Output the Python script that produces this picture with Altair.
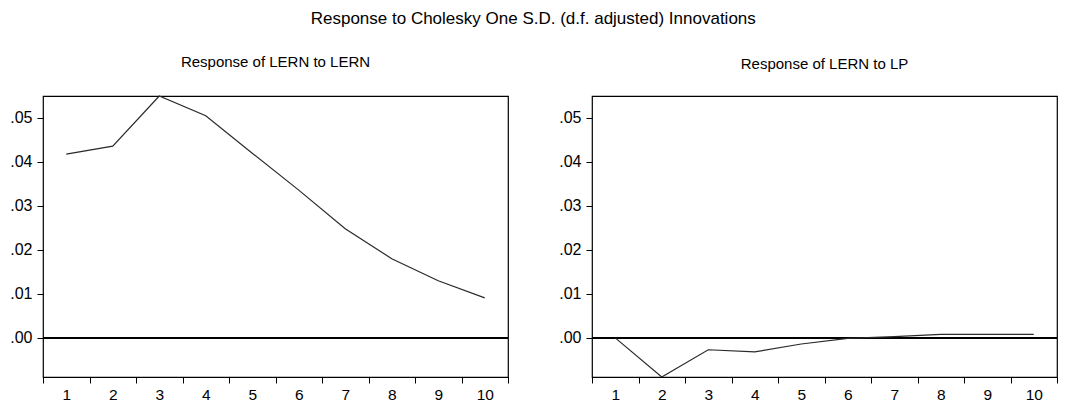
import altair as alt
import pandas as pd

horizons = [1, 2, 3, 4, 5, 6, 7, 8, 9, 10]
resp_lern_lern = [0.0418, 0.0436, 0.0550, 0.0505, 0.0420, 0.0336, 0.0248, 0.0180, 0.0130, 0.0091]
resp_lern_lp = [0.0000, -0.0089, -0.0027, -0.0032, -0.0014, -0.0001, 0.0003, 0.0008, 0.0008, 0.0008]
y_ticks = [0.0, 0.01, 0.02, 0.03, 0.04, 0.05]
y_domain = [-0.0089, 0.0550]

FONT = "Liberation Sans"


def panel(values, title):
    df = pd.DataFrame({"h": horizons, "v": values})
    x = alt.X(
        "h:O",
        scale=alt.Scale(type="band", paddingInner=0, paddingOuter=0),
        bandPosition=0.5,
        axis=alt.Axis(
            title=None, labelAngle=0, tickBand="extent", domain=False,
            tickSize=6, tickColor="black", labelColor="black",
            labelFont=FONT, labelFontSize=15.5, labelPadding=4,
        ),
    )
    y = alt.Y(
        "v:Q",
        scale=alt.Scale(domain=y_domain, nice=False, zero=False),
        axis=alt.Axis(
            title=None, values=y_ticks, grid=False, domain=False,
            tickSize=6, tickColor="black", labelColor="black",
            labelFont=FONT, labelFontSize=16, labelPadding=5,
            labelExpr="replace(format(datum.value, '.2f'), '0.', '.')",
            minExtent=34, maxExtent=34,
        ),
    )
    line = alt.Chart(df).mark_line(color="#2a2a2a", strokeWidth=1.2).encode(x=x, y=y)
    zero = alt.Chart(df).mark_rule(color="black", strokeWidth=1).encode(y=alt.datum(0))
    return alt.layer(zero, line).properties(
        width=465, height=281,
        title=alt.TitleParams(title, fontSize=15, font=FONT, fontWeight="normal",
                              color="black", offset=24, anchor="middle", frame="group"),
    )


left = panel(resp_lern_lern, "Response of LERN to LERN")
right = panel(resp_lern_lp, "Response of LERN to LP")

chart = alt.hconcat(left, right, spacing=47).properties(
    title=alt.TitleParams("Response to Cholesky One S.D. (d.f. adjusted) Innovations",
                          fontSize=17, font=FONT, fontWeight="normal", color="black",
                          anchor="middle", offset=26),
    padding={"left": 0, "top": 2, "right": 0, "bottom": 0},
).configure_view(stroke="black", strokeWidth=1.2)

chart.save("out.html", embed_options={"renderer": "svg", "actions": False})
